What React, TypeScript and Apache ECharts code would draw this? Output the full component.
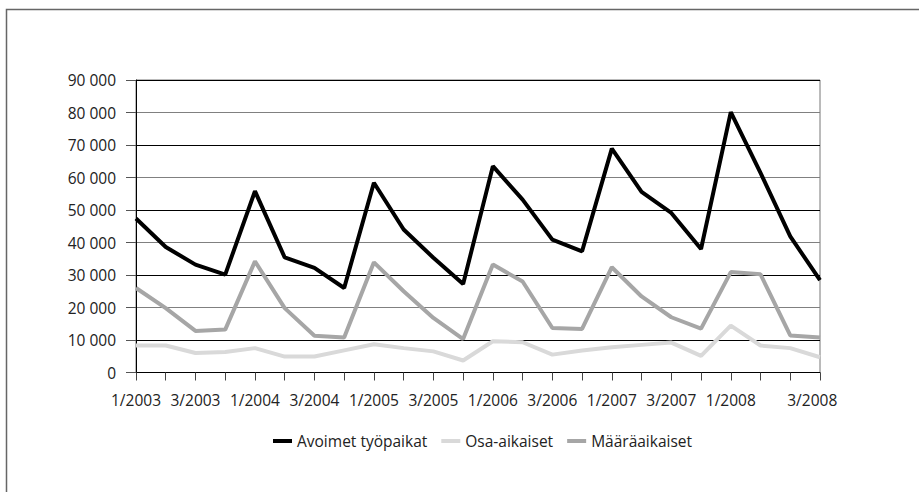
import React, { useEffect, useRef } from "react";
import * as echarts from "echarts";

const years = ["2003", "2004", "2005", "2006", "2007", "2008"];
const quarters = ["1", "2", "3", "4"];
const categories: string[] = years.flatMap((y) => quarters.map((q) => `${q}/${y}`));

const avoimet = [
  47400, 38600, 33200, 30100, 55800, 35400, 32200, 26000,
  58400, 44000, 35300, 27200, 63500, 53200, 40900, 37300,
  68900, 55600, 49100, 38000, 80100, 61400, 41900, 28400,
];
const osaAikaiset = [
  8300, 8300, 6000, 6300, 7500, 4900, 4900, 6800,
  8700, 7500, 6500, 3700, 9600, 9300, 5500, 6800,
  7800, 8500, 9200, 5100, 14400, 8300, 7500, 4700,
];
const maaraaikaiset = [
  26000, 19800, 12800, 13200, 34200, 19800, 11300, 10800,
  33900, 25000, 16800, 10300, 33200, 28000, 13700, 13400,
  32400, 23400, 17000, 13500, 30900, 30200, 11400, 10800,
];
const seriesNames = ["Avoimet työpaikat", "Osa-aikaiset", "Määräaikaiset"];
const yTicks = [0, 10000, 20000, 30000, 40000, 50000, 60000, 70000, 80000, 90000];

const FONT = "'Open Sans', 'Noto Sans', sans-serif";
const FS = 15.5;

export default function App() {
  const ref = useRef<HTMLDivElement>(null);
  useEffect(() => {
    if (!ref.current) return;
    const chart = echarts.init(ref.current, undefined, { renderer: "svg" });
    const lineSeries = (name: string, data: number[], color: string) => ({
      name,
      type: "line",
      data,
      showSymbol: false,
      symbol: "none",
      lineStyle: { color, width: 4 },
      itemStyle: { color },
    });
    chart.setOption({
      animation: false,
      backgroundColor: "#fff",
      textStyle: { fontFamily: FONT },
      graphic: [
        {
          type: "rect",
          shape: { x: 6.5, y: 9.5, width: 1000, height: 1000 },
          style: { fill: "none", stroke: "#666", lineWidth: 1.5 },
          silent: true,
        },
      ],
      grid: {
        left: 136,
        right: 99,
        top: 80,
        bottom: 119.5,
        show: true,
        borderColor: "#777",
        borderWidth: 1,
        backgroundColor: "transparent",
      },
      legend: {
        left: 268,
        top: 428,
        icon: "rect",
        itemWidth: 19,
        itemHeight: 4,
        itemGap: 14,
        textStyle: { fontFamily: FONT, fontSize: FS, color: "#222" },
        data: seriesNames,
      },
      xAxis: {
        type: "category",
        data: categories,
        boundaryGap: false,
        axisLine: { lineStyle: { color: "#000", width: 1 } },
        axisTick: { show: true, interval: 0, length: 8, lineStyle: { color: "#444" } },
        axisLabel: {
          interval: 1,
          margin: 19,
          fontSize: FS,
          fontFamily: FONT,
          color: "#222",
          formatter: (v: string, i: number) => (i === 22 ? `{s|${v}}` : v),
          rich: {
            s: { fontSize: FS, fontFamily: FONT, color: "#222", padding: [0, 0, 0, 44] },
          },
        },
        splitLine: { show: false },
      },
      yAxis: {
        type: "value",
        min: yTicks[0],
        max: yTicks[yTicks.length - 1],
        interval: 10000,
        axisLine: { show: true, lineStyle: { color: "#000", width: 1 } },
        axisTick: { show: true, length: 10, lineStyle: { color: "#555" } },
        axisLabel: {
          margin: 20,
          fontSize: FS,
          fontFamily: FONT,
          color: "#222",
          formatter: (v: number) => (v === 0 ? "0" : `${v / 1000} 000`),
        },
        splitLine: { show: true, lineStyle: { color: ["#808080", "#000"], width: 1 } },
      },
      series: [
        lineSeries(seriesNames[0], avoimet, "#000000"),
        lineSeries(seriesNames[1], osaAikaiset, "#d9d9d9"),
        lineSeries(seriesNames[2], maaraaikaiset, "#a6a6a6"),
      ],
    });
    return () => chart.dispose();
  }, []);
  return (
    <div
      ref={ref}
      style={{ position: "fixed", left: 0, top: 0, width: 919, height: 492, background: "#fff" }}
    />
  );
}
